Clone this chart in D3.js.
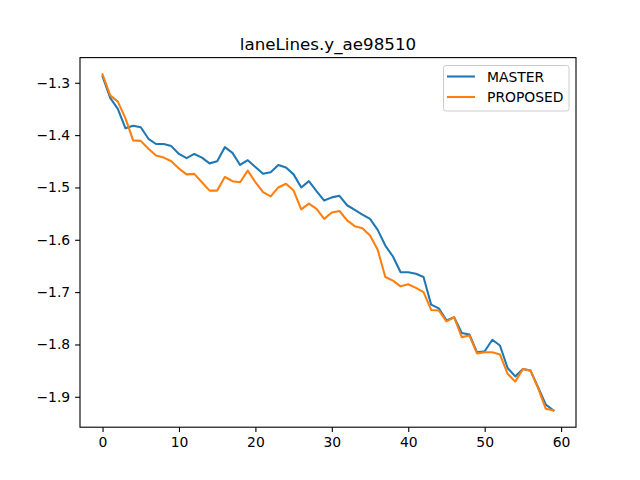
<!DOCTYPE html>
<html>
<head>
<meta charset="utf-8">
<script src="https://cdn.jsdelivr.net/npm/d3@7"></script>
<style>
  body { margin: 0; background: #fff; }
  text { font-family: "DejaVu Sans", sans-serif; }
</style>
</head>
<body>
<svg id="chart" width="640" height="480"></svg>
<script>
const title = "laneLines.y_ae98510";
const seriesNames = ["MASTER", "PROPOSED"];
const seriesColors = ["#1f77b4", "#ff7f0e"];
const xTicks = [0, 10, 20, 30, 40, 50, 60];
const yTicks = [-1.9, -1.8, -1.7, -1.6, -1.5, -1.4, -1.3];

const master = [
  -1.288, -1.329, -1.350, -1.387, -1.382, -1.385, -1.407, -1.417, -1.417, -1.421,
  -1.436, -1.444, -1.436, -1.443, -1.454, -1.450, -1.423, -1.434, -1.457, -1.448,
  -1.461, -1.474, -1.471, -1.457, -1.462, -1.475, -1.500, -1.488, -1.507, -1.525,
  -1.519, -1.516, -1.534, -1.543, -1.552, -1.560, -1.581, -1.611, -1.632, -1.662,
  -1.662, -1.665, -1.671, -1.724, -1.731, -1.754, -1.748, -1.778, -1.781, -1.815,
  -1.813, -1.791, -1.802, -1.845, -1.861, -1.847, -1.850, -1.882, -1.915, -1.926
];
const proposed = [
  -1.284, -1.324, -1.336, -1.368, -1.410, -1.411, -1.426, -1.439, -1.443, -1.450,
  -1.464, -1.475, -1.474, -1.490, -1.506, -1.506, -1.480, -1.488, -1.490, -1.468,
  -1.490, -1.509, -1.517, -1.500, -1.493, -1.506, -1.542, -1.531, -1.541, -1.560,
  -1.548, -1.545, -1.563, -1.574, -1.578, -1.592, -1.619, -1.671, -1.678, -1.689,
  -1.685, -1.692, -1.700, -1.734, -1.735, -1.756, -1.748, -1.786, -1.783, -1.817,
  -1.815, -1.815, -1.819, -1.856, -1.871, -1.847, -1.850, -1.884, -1.923, -1.926
];
const allSeries = [master, proposed];

const svg = d3.select("#chart");
const L = 80, R = 576, T = 57.6, B = 427.2;

const n = master.length;
const xPad = (n - 1) * 0.05;
const x = d3.scaleLinear().domain([-xPad, (n - 1) + xPad]).range([L, R]);
const allVals = master.concat(proposed);
const ymin = d3.min(allVals), ymax = d3.max(allVals);
const yPad = (ymax - ymin) * 0.05;
const y = d3.scaleLinear().domain([ymin - yPad, ymax + yPad]).range([B, T]);

const fmt = v => d3.format(".1f")(v).replace("-", "\u2212");

// lines
const line = d3.line().x((d, i) => x(i)).y(d => y(d));
allSeries.forEach((s, k) => {
  svg.append("path")
    .datum(s)
    .attr("d", line)
    .attr("fill", "none")
    .attr("stroke", seriesColors[k])
    .attr("stroke-width", 2.08)
    .attr("stroke-linejoin", "round")
    .attr("stroke-linecap", "square");
});

// axes
const xAxis = d3.axisBottom(x).tickValues(xTicks).tickSize(4.9).tickPadding(4.9).tickFormat(d3.format("d"));
const yAxis = d3.axisLeft(y).tickValues(yTicks).tickSize(4.9).tickPadding(4.9).tickFormat(fmt);

const gx = svg.append("g").attr("transform", `translate(0,${B})`).call(xAxis);
const gy = svg.append("g").attr("transform", `translate(${L},0)`).call(yAxis);
[gx, gy].forEach(g => {
  g.select(".domain").remove();
  g.selectAll(".tick line").attr("stroke", "#000").attr("stroke-width", 1.1);
  g.selectAll(".tick text").attr("fill", "#000").style("font-size", "13.9px").style("font-family", "DejaVu Sans");
});

// frame
svg.append("rect")
  .attr("x", L).attr("y", T).attr("width", R - L).attr("height", B - T)
  .attr("fill", "none").attr("stroke", "#000").attr("stroke-width", 1.1);

// title
svg.append("text")
  .attr("x", (L + R) / 2).attr("y", 50)
  .attr("text-anchor", "middle")
  .style("font-size", "16.7px")
  .attr("fill", "#000")
  .text(title);

// legend
const lg = svg.append("g");
lg.append("rect")
  .attr("x", 443.5).attr("y", 65.5).attr("width", 125.5).attr("height", 45.5)
  .attr("rx", 2.5).attr("ry", 2.5)
  .attr("fill", "#fff").attr("fill-opacity", 0.8)
  .attr("stroke", "#cccccc").attr("stroke-width", 1);
seriesNames.forEach((name, k) => {
  const cy = 76.5 + k * 20.5;
  lg.append("line")
    .attr("x1", 447).attr("x2", 475).attr("y1", cy).attr("y2", cy)
    .attr("stroke", seriesColors[k]).attr("stroke-width", 2.08);
  lg.append("text")
    .attr("x", 487).attr("y", cy).attr("dy", "0.36em")
    .style("font-size", "13.9px")
    .attr("fill", "#000")
    .text(name);
});
</script>
</body>
</html>
